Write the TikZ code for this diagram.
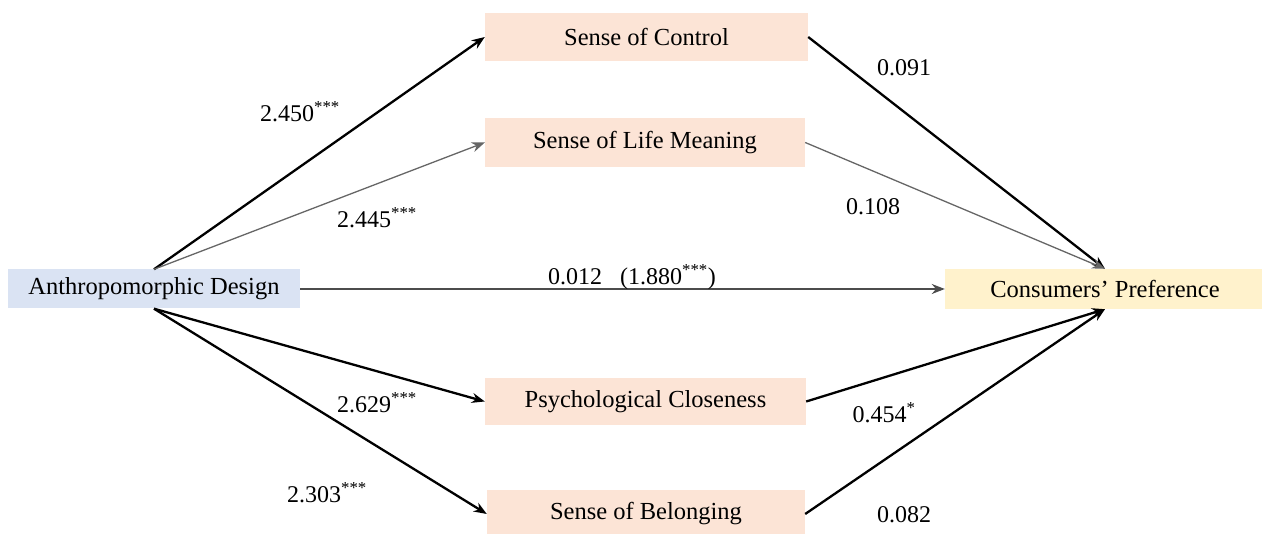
\documentclass[tikz,border=0pt]{standalone}
\usepackage{fontspec}
\setmainfont{Liberation Serif}
\usetikzlibrary{arrows.meta}
\definecolor{boxblue}{HTML}{DAE3F3}
\definecolor{boxpink}{HTML}{FCE4D6}
\definecolor{boxyellow}{HTML}{FFF2CC}
\tikzset{
  box/.style={rectangle, inner sep=0pt, font=\fontsize{24.5}{28}\selectfont},
  lbl/.style={inner sep=0pt, font=\fontsize{24}{28}\selectfont},
  conn/.style={-{Stealth[length=13pt,width=10pt]}, line width=2.3pt, black},
  thinconn/.style={-{Stealth[length=13pt,width=10pt]}, line width=1.3pt, black!60},
  midconn/.style={-{Stealth[length=13pt,width=10pt]}, line width=1.8pt, black!70},
}
\begin{document}
\begin{tikzpicture}[x=1pt,y=-1pt]
\useasboundingbox (0,0) rectangle (1262,534);
\clip (0,0) rectangle (1262,534);
\node[box, fill=boxblue, minimum width=292pt, minimum height=39pt] (ad) at (154,289) {Anthropomorphic Design};
\node[box, fill=boxpink, minimum width=323pt, minimum height=48pt] (soc) at (646.5,37) {Sense of Control};
\node[box, fill=boxpink, minimum width=320pt, minimum height=49pt] (slm) at (645,142.5) {Sense of Life Meaning};
\node[box, fill=boxpink, minimum width=321pt, minimum height=47pt] (pc) at (645.5,401.5) {Psychological Closeness};
\node[box, fill=boxpink, minimum width=318pt, minimum height=48pt] (sb) at (646,514) {Sense of Belonging};
\node[box, fill=boxyellow, minimum width=320pt, minimum height=40pt] (cp) at (1105,289) {Consumers\char"2019\ Preference};

\draw[conn] (ad.north) -- (soc.west);
\draw[thinconn] (ad.north) -- (slm.west);
\draw[midconn] (ad.east) -- (cp.west);
\draw[conn] (ad.south) -- (pc.west);
\draw[conn] (ad.south) -- (sb.west);
\draw[conn] (soc.east) -- (cp.north);
\draw[thinconn] (slm.east) -- (cp.north);
\draw[conn] (pc.east) -- (cp.south);
\draw[conn] (sb.east) -- (cp.south);

\node[lbl] (l1) at (300,112) {2.450\textsuperscript{***}};
\node[lbl] (l2) at (377,218) {2.445\textsuperscript{***}};
\node[lbl] (l3) at (632,277) {0.012\ \ \ (1.880\textsuperscript{***})};
\node[lbl] (l4) at (377,403) {2.629\textsuperscript{***}};
\node[lbl] (l5) at (327,493) {2.303\textsuperscript{***}};
\node[lbl] (l6) at (904,68) {0.091};
\node[lbl] (l7) at (873,207) {0.108};
\node[lbl] (l8) at (884,413) {0.454\textsuperscript{*}};
\node[lbl] (l9) at (904,515) {0.082};
\end{tikzpicture}
\end{document}
